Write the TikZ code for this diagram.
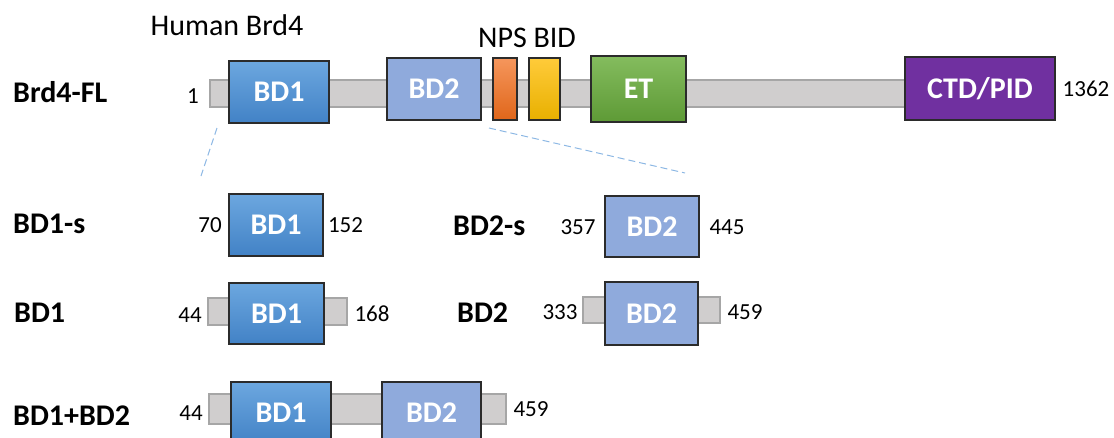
\documentclass[tikz,border=0pt]{standalone}
\usepackage{fontspec}
\setmainfont{Carlito}
\definecolor{barfill}{HTML}{D0CECE}
\definecolor{barline}{HTML}{A6A6A6}
\definecolor{boxline}{HTML}{2B2B2B}
\definecolor{bdonetop}{HTML}{6CA7DF}
\definecolor{bdonebot}{HTML}{4282C6}
\definecolor{bdtwofill}{HTML}{8FAADC}
\definecolor{npstop}{HTML}{F5965C}
\definecolor{npsbot}{HTML}{E0661A}
\definecolor{bidtop}{HTML}{FFCB3A}
\definecolor{bidbot}{HTML}{E8B000}
\definecolor{ettop}{HTML}{84BC5E}
\definecolor{etbot}{HTML}{5E9A36}
\definecolor{ctdfill}{HTML}{7030A0}
\definecolor{dashblue}{HTML}{8DB8E4}
\begin{document}
\begin{tikzpicture}[x=1pt,y=-1pt,
  bar/.style={draw=barline, fill=barfill, line width=1.3pt, inner sep=0pt},
  dom/.style={draw=boxline, line width=1.2pt, inner sep=0pt, text=white,
    font=\fontsize{30}{30}\selectfont\bfseries, text height=19pt, text depth=0pt},
  bdone/.style={dom, top color=bdonetop, bottom color=bdonebot},
  bdtwo/.style={dom, fill=bdtwofill},
  nps/.style={dom, top color=npstop, bottom color=npsbot},
  bid/.style={dom, top color=bidtop, bottom color=bidbot},
  etbox/.style={dom, top color=ettop, bottom color=etbot},
  ctd/.style={dom, fill=ctdfill},
  lab/.style={anchor=base west, inner sep=0pt, font=\fontsize{30}{30}\selectfont\bfseries},
  num/.style={anchor=base, inner sep=0pt, font=\fontsize{23}{23}\selectfont},
  ttl/.style={anchor=base, inner sep=0pt, font=\fontsize{30}{30}\selectfont},
  zoomline/.style={draw=dashblue, line width=1pt, dash pattern=on 7pt off 4pt}
]
\useasboundingbox (0,0) rectangle (1114,437);
\clip (0,0) rectangle (1114,437);

% titles
\node[ttl] (human) at (227,35) {Human Brd4};
\node[ttl] (npsbid) at (527,47) {NPS BID};

% ---- full length
\node[lab] (lfl) at (13,102) {Brd4-FL};
\node[bar, minimum width=830pt, minimum height=27pt] (barfl) at (625,93.5) {};
\node[bdone, minimum width=100pt, minimum height=62pt] (flbdone) at (279,92) {BD1};
\node[bdtwo, minimum width=94pt, minimum height=62pt] (flbdtwo) at (434,89) {BD2};
\node[nps, minimum width=24pt, minimum height=62pt] (flnps) at (505,89) {};
\node[bid, minimum width=31pt, minimum height=62pt] (flbid) at (544.5,89) {};
\node[etbox, minimum width=95pt, minimum height=66pt] (flet) at (638.5,89) {ET};
\node[ctd, minimum width=150pt, minimum height=63pt] (flctd) at (980,88.5) {CTD/PID};
\node[num] (nfla) at (193,103) {1};
\node[num] (nflb) at (1086,96) {1362};

% zoom lines
\coordinate (za1) at (217,128);
\coordinate (za2) at (201,176);
\coordinate (zb1) at (489,128);
\coordinate (zb2) at (685,173);
\draw[zoomline] (za1) -- (za2);
\draw[zoomline] (zb1) -- (zb2);

% ---- BD1-s
\node[lab] (lbdones) at (13,233) {BD1-s};
\node[bdone, minimum width=94pt, minimum height=62pt] (sbdone) at (276,225) {BD1};
\node[num] (nsa) at (210,232) {70};
\node[num] (nsb) at (345.5,232) {152};

% ---- BD2-s
\node[lab] (lbdtwos) at (453,235) {BD2-s};
\node[bdtwo, minimum width=94pt, minimum height=61pt] (sbdtwo) at (652,226.5) {BD2};
\node[num] (nsc) at (578,234) {357};
\node[num] (nsd) at (727,234) {445};

% ---- BD1
\node[lab] (lbdone) at (14,322) {BD1};
\node[bar, minimum width=139pt, minimum height=27pt] (barbdone) at (277.5,311.5) {};
\node[bdone, minimum width=95pt, minimum height=61pt] (mbdone) at (276.5,313.5) {BD1};
\node[num] (nma) at (190,322) {44};
\node[num] (nmb) at (372,321) {168};

% ---- BD2
\node[lab] (lbdtwo) at (457,322) {BD2};
\node[bar, minimum width=137pt, minimum height=26pt] (barbdtwo) at (651.5,310) {};
\node[bdtwo, minimum width=93pt, minimum height=63pt] (mbdtwo) at (651.5,313.5) {BD2};
\node[num] (nmc) at (560,319) {333};
\node[num] (nmd) at (745,319) {459};

% ---- BD1+BD2
\node[lab] (lboth) at (13,425) {BD1+BD2};
\node[bar, minimum width=297pt, minimum height=30pt] (barboth) at (357.5,409) {};
\node[bdone, minimum width=100pt, minimum height=62pt] (bbdone) at (281,413) {BD1};
\node[bdtwo, minimum width=99pt, minimum height=62pt] (bbdtwo) at (431.5,413) {BD2};
\node[num] (nba) at (191,420) {44};
\node[num] (nbb) at (531,416) {459};
\end{tikzpicture}
\end{document}
